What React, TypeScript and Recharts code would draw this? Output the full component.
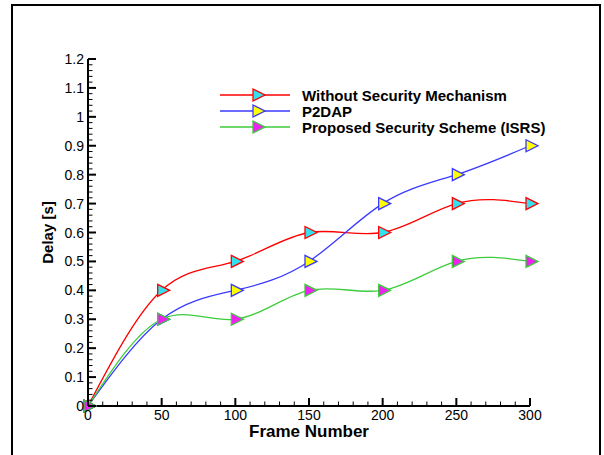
import { LineChart, Line, XAxis, YAxis, Legend, Label } from "recharts"

// frame number (x) and delay in seconds (y)
const frames = [0, 50, 100, 150, 200, 250, 300]
const withoutSecurity = [0, 0.4, 0.5, 0.6, 0.6, 0.7, 0.7]
const p2dap = [0, 0.3, 0.4, 0.5, 0.7, 0.8, 0.9]
const isrs = [0, 0.3, 0.3, 0.4, 0.4, 0.5, 0.5]

const xTicks = [0, 50, 100, 150, 200, 250, 300]
const xTickLabels = ["0", "50", "100", "150", "200", "250", "300"]
const yTicks = [0, 0.1, 0.2, 0.3, 0.4, 0.5, 0.6, 0.7, 0.8, 0.9, 1, 1.1, 1.2]
const yTickLabels = ["0", "0.1", "0.2", "0.3", "0.4", "0.5", "0.6", "0.7", "0.8", "0.9", "1", "1.1", "1.2"]

// unlabelled minor ticks, majors included so one axis draws them all
const xAllTicks = Array.from({ length: 31 }, (_, i) => i * 10)
const yAllTicks = Array.from({ length: 61 }, (_, i) => Math.round(i * 2) / 100)

const series = [
    { key: "without", name: "Without Security Mechanism", line: "#ff0000", fill: "#33e0ee" },
    { key: "p2dap", name: "P2DAP", line: "#3a3aff", fill: "#ffff00" },
    { key: "isrs", name: "Proposed Security Scheme (ISRS)", line: "#3ccc3c", fill: "#ee22ee" },
]

const data = frames.map((f, i) => ({
    frame: f,
    without: withoutSecurity[i],
    p2dap: p2dap[i],
    isrs: isrs[i],
}))

const font = "'Liberation Sans', Arial, sans-serif"

const triangle = (cx: number, cy: number) =>
    `${cx - 4},${cy - 6} ${cx + 8},${cy} ${cx - 4},${cy + 6}`

function makeDot(fill: string, stroke: string) {
    return (props: any) => {
        const { cx, cy, index } = props
        if (cx == null || cy == null) return <g key={index} />
        return (
            <polygon key={index} points={triangle(cx, cy)} fill={fill} stroke={stroke} strokeWidth={1.3} />
        )
    }
}

const findMajor = (list: number[], v: number) => list.findIndex((t) => Math.abs(t - v) < 1e-6)

function XTick(props: any) {
    const { x, y, payload } = props
    const idx = findMajor(xTicks, payload.value)
    if (idx < 0) return <line x1={x} x2={x} y1={y} y2={y - 4.5} stroke="#000" strokeWidth={1} />
    return (
        <g>
            <line x1={x} x2={x} y1={y} y2={y - 8} stroke="#000" strokeWidth={2} />
            <text x={x} y={y + 14} textAnchor="middle" fontFamily={font} fontSize={14} fill="#000">
                {xTickLabels[idx]}
            </text>
        </g>
    )
}

function YTick(props: any) {
    const { x, y, payload } = props
    const idx = findMajor(yTicks, payload.value)
    if (idx < 0) return <line x1={x} x2={x + 4.5} y1={y} y2={y} stroke="#000" strokeWidth={1} />
    return (
        <g>
            <line x1={x} x2={x + 8} y1={y} y2={y} stroke="#000" strokeWidth={2} />
            <text x={x - 4} y={y} textAnchor="end" dominantBaseline="central" fontFamily={font} fontSize={14} fill="#000">
                {yTickLabels[idx]}
            </text>
        </g>
    )
}

function LegendBox() {
    return (
        <svg width={340} height={50} style={{ display: "block" }}>
            {series.map((s, i) => {
                const y = 9 + i * 16
                return (
                    <g key={s.key}>
                        <line x1={0} x2={70} y1={y} y2={y} stroke={s.line} strokeWidth={1.3} />
                        <polygon points={triangle(37, y)} fill={s.fill} stroke={s.line} strokeWidth={1.3} />
                        <text x={82} y={y} dominantBaseline="central" fontFamily={font} fontWeight="bold" fontSize={15} fill="#000">
                            {s.name}
                        </text>
                    </g>
                )
            })}
        </svg>
    )
}

export default function App() {
    return (
        <div style={{ position: "absolute", left: 0, top: 0, width: 604, height: 455, background: "#fff", overflow: "hidden" }}>
            <div
                style={{
                    position: "absolute",
                    left: 11,
                    top: 4,
                    width: 590,
                    height: 451,
                    boxSizing: "border-box",
                    borderTop: "2px solid #000",
                    borderLeft: "2px solid #000",
                    borderRight: "2px solid #000",
                }}
            />
            <div style={{ position: "absolute", left: 0, top: 0 }}>
                <LineChart width={604} height={455} data={data} margin={{ top: 59, right: 74, bottom: 19, left: 28 }}>
                    <XAxis
                        dataKey="frame"
                        type="number"
                        domain={[0, 300]}
                        ticks={xAllTicks}
                        interval={0}
                        height={30}
                        tickSize={0}
                        tickMargin={0}
                        axisLine={{ stroke: "#000", strokeWidth: 2 }}
                        tickLine={false}
                        tick={<XTick />}
                    >
                        <Label
                            content={(p: any) => {
                                const vb = p.viewBox
                                return (
                                    <text
                                        x={vb.x + vb.width / 2}
                                        y={vb.y + 25}
                                        textAnchor="middle"
                                        dominantBaseline="central"
                                        fontFamily={font}
                                        fontWeight="bold"
                                        fontSize={17}
                                        fill="#000"
                                    >
                                        Frame Number
                                    </text>
                                )
                            }}
                        />
                    </XAxis>
                    <YAxis
                        type="number"
                        domain={[0, 1.2]}
                        ticks={yAllTicks}
                        interval={0}
                        width={60}
                        tickSize={0}
                        tickMargin={0}
                        axisLine={{ stroke: "#000", strokeWidth: 2 }}
                        tickLine={false}
                        tick={<YTick />}
                    >
                        <Label
                            content={(p: any) => {
                                const vb = p.viewBox
                                const cx = vb.x + vb.width - 41
                                const cy = vb.y + vb.height / 2
                                return (
                                    <text
                                        x={cx}
                                        y={cy}
                                        transform={`rotate(-90 ${cx} ${cy})`}
                                        textAnchor="middle"
                                        dominantBaseline="central"
                                        fontFamily={font}
                                        fontWeight="bold"
                                        fontSize={15}
                                        fill="#000"
                                    >
                                        Delay [s]
                                    </text>
                                )
                            }}
                        />
                    </YAxis>
                    <Legend
                        layout="vertical"
                        align="center"
                        verticalAlign="middle"
                        wrapperStyle={{ left: 220, top: 86, width: 340 }}
                        content={() => <LegendBox />}
                    />
                    {series.map((s) => (
                        <Line
                            key={s.key}
                            type="natural"
                            dataKey={s.key}
                            name={s.name}
                            stroke={s.line}
                            strokeWidth={1.3}
                            dot={makeDot(s.fill, s.line)}
                            activeDot={false}
                            isAnimationActive={false}
                        />
                    ))}
                </LineChart>
            </div>
        </div>
    )
}
